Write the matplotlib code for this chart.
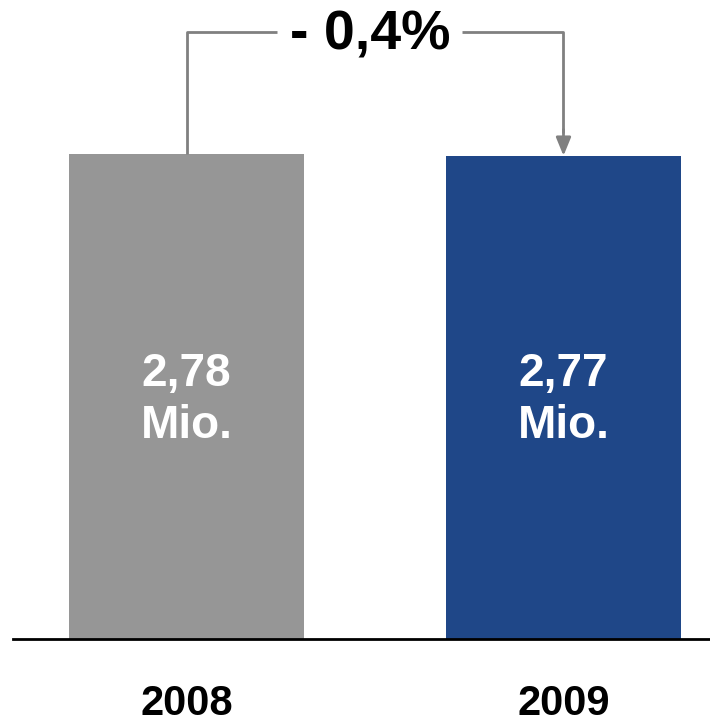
import matplotlib.pyplot as plt

years = ["2008", "2009"]
values = [2.78, 2.77]
value_labels = ["2,78\nMio.", "2,77\nMio."]
change_label = "- 0,4%"
colors = ["#969696", "#1f4788"]

fig = plt.figure(figsize=(7.10, 7.24), dpi=100)
ax = fig.add_axes([0, 85 / 724, 1, 639 / 724])

x = [0, 1]
ax.bar(x, values, width=0.623, color=colors)
ax.set_xlim(-0.4947, 1.3886)
ax.set_ylim(0, 3.663)
ax.axis("off")

# baseline
ax.axhline(0, xmin=13 / 710, xmax=1, color="black", lw=2, clip_on=False)

# value labels inside bars
for xi, lab in zip(x, value_labels):
    ax.text(xi, 1.37, lab, ha="center", va="center", color="white",
            fontsize=33, fontweight="bold", family="Liberation Sans",
            linespacing=1.22)

# year labels below
for xi, yr in zip(x, years):
    ax.text(xi, -0.37, yr, ha="center", va="center", color="black",
            fontsize=30, fontweight="bold",
            family=["Liberation Sans Narrow", "Liberation Sans"])

# change bracket
top = 3.479
gc = "#808080"
ax.plot([x[0], x[0], 0.240], [values[0], top, top], color=gc, lw=2,
        solid_capstyle="butt")
ax.plot([0.730, x[1], x[1]], [top, top, values[1] + 0.13], color=gc, lw=2,
        solid_capstyle="butt")
ax.annotate("", xy=(x[1], values[1]), xytext=(x[1], values[1] + 0.15),
            arrowprops=dict(arrowstyle="-|>,head_length=1.1,head_width=0.45",
                            color=gc, lw=2, shrinkA=0, shrinkB=0))
ax.text(0.487, top - 0.02, change_label, ha="center", va="center",
        fontsize=40, fontweight="bold", family="Liberation Sans")

fig.savefig("out.png", dpi=100)
